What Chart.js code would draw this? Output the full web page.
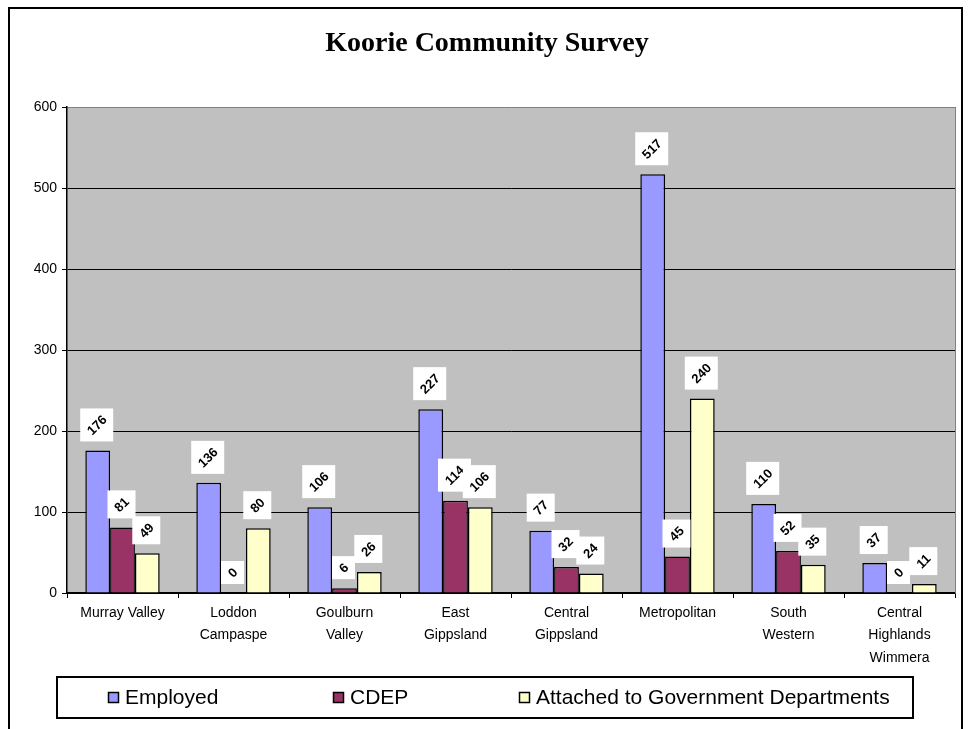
<!DOCTYPE html>
<html>
<head>
<meta charset="utf-8">
<script src="https://cdn.jsdelivr.net/npm/chart.js@4.4.1/dist/chart.umd.min.js"></script>
<style>
  html, body { margin: 0; padding: 0; background: #fff; }
  #wrap { width: 971px; height: 729px; position: relative; }
</style>
</head>
<body>
<div id="wrap"><canvas id="chart"></canvas></div>
<script>
// ---- datos ----
const regiones = [
  ['Murray Valley'],
  ['Loddon', 'Campaspe'],
  ['Goulburn', 'Valley'],
  ['East', 'Gippsland'],
  ['Central', 'Gippsland'],
  ['Metropolitan'],
  ['South', 'Western'],
  ['Central', 'Highlands', 'Wimmera']
];
const employed = [176, 136, 106, 227, 77, 517, 110, 37];
const cdep = [81, 0, 6, 114, 32, 45, 52, 0];
const attached = [49, 80, 26, 106, 24, 240, 35, 11];
const yTicks = [0, 100, 200, 300, 400, 500, 600];

const SANS = '"Liberation Sans", Arial, sans-serif';

// ---- plugin: fondo, marco, titulo, etiquetas y leyenda ----
const decor = {
  id: 'decor',
  beforeDraw(chart) {
    const { ctx, chartArea: a } = chart;
    ctx.save();
    ctx.fillStyle = '#fff';
    ctx.fillRect(0, 0, chart.width, chart.height);
    ctx.fillStyle = '#c0c0c0';
    ctx.fillRect(a.left, a.top, a.right - a.left, a.bottom - a.top);
    ctx.restore();
  },
  afterDraw(chart) {
    const { ctx, chartArea: a } = chart;
    ctx.save();

    // borde derecho del area de trazado
    ctx.strokeStyle = '#808080';
    ctx.lineWidth = 1;
    ctx.beginPath();
    ctx.moveTo(a.right + 0.5, a.top);
    ctx.lineTo(a.right + 0.5, a.bottom);
    ctx.stroke();

    // marco exterior
    ctx.strokeStyle = '#000';
    ctx.lineWidth = 2;
    ctx.strokeRect(9, 8, 953, 760);

    // titulo
    ctx.fillStyle = '#000';
    ctx.font = 'bold 28px "Liberation Serif", "Times New Roman", serif';
    ctx.textAlign = 'center';
    ctx.textBaseline = 'middle';
    ctx.fillText('Koorie Community Survey', 487, 44);

    // etiquetas de valor (cajas blancas con texto girado)
    ctx.font = 'bold 13px ' + SANS;
    chart.data.datasets.forEach((ds, i) => {
      const meta = chart.getDatasetMeta(i);
      meta.data.forEach((bar, j) => {
        const txt = String(ds.data[j]);
        const w = ctx.measureText(txt).width;
        const s = Math.round((w + 10) * 0.707 + 11);
        const cx = bar.x - 1;
        const bottom = bar.y - 9;
        ctx.fillStyle = '#fff';
        ctx.fillRect(cx - s / 2, bottom - s, s, s);
        ctx.save();
        ctx.translate(cx, bottom - s / 2);
        ctx.rotate(-Math.PI / 4);
        ctx.fillStyle = '#000';
        ctx.textAlign = 'center';
        ctx.textBaseline = 'middle';
        ctx.fillText(txt, 0, 1);
        ctx.restore();
      });
    });

    // leyenda
    ctx.strokeStyle = '#000';
    ctx.lineWidth = 2;
    ctx.strokeRect(57, 677, 856, 41);
    const xs = [108, 333, 519];
    ctx.font = '21px ' + SANS;
    ctx.textAlign = 'left';
    ctx.textBaseline = 'middle';
    chart.data.datasets.forEach((ds, i) => {
      ctx.fillStyle = ds.backgroundColor;
      ctx.fillRect(xs[i], 692, 11, 11);
      ctx.strokeStyle = '#000';
      ctx.lineWidth = 1.5;
      ctx.strokeRect(xs[i] + 0.5, 692.5, 10, 10);
      ctx.fillStyle = '#000';
      ctx.fillText(ds.label, xs[i] + 17, 698);
    });

    ctx.restore();
  }
};

new Chart(document.getElementById('chart'), {
  type: 'bar',
  data: {
    labels: regiones,
    datasets: [
      { label: 'Employed', data: employed, backgroundColor: '#9999ff' },
      { label: 'CDEP', data: cdep, backgroundColor: '#993366' },
      { label: 'Attached to Government Departments', data: attached, backgroundColor: '#ffffcc' }
    ]
  },
  options: {
    responsive: true,
    maintainAspectRatio: false,
    animation: false,
    devicePixelRatio: 1,
    layout: { padding: { top: 107, left: 9, right: 16, bottom: 60 } },
    datasets: {
      bar: {
        borderColor: '#000',
        borderWidth: 1.5,
        categoryPercentage: 0.67,
        barPercentage: 1
      }
    },
    plugins: {
      legend: { display: false },
      title: { display: false },
      tooltip: { enabled: false }
    },
    scales: {
      x: {
        afterFit(scale) { scale.height = 76; },
        grid: {
          offset: true,
          drawOnChartArea: false,
          drawTicks: true,
          tickLength: 5,
          color: '#000'
        },
        border: { color: '#000', width: 1.5 },
        ticks: {
          color: '#000',
          font: { family: SANS, size: 14, lineHeight: 1.6 },
          padding: 4,
          maxRotation: 0,
          autoSkip: false
        }
      },
      y: {
        min: yTicks[0],
        max: yTicks[yTicks.length - 1],
        afterFit(scale) { scale.width = 58; },
        afterBuildTicks(scale) { scale.ticks = yTicks.map(v => ({ value: v })); },
        grid: {
          color: (c) => (c.tick && c.tick.value === 600 ? '#808080' : '#000'),
          tickLength: 5,
          tickColor: '#000'
        },
        border: { color: '#000', width: 1.5 },
        ticks: {
          color: '#000',
          font: { family: SANS, size: 14 },
          padding: 5
        }
      }
    }
  },
  plugins: [decor]
});
</script>
</body>
</html>
